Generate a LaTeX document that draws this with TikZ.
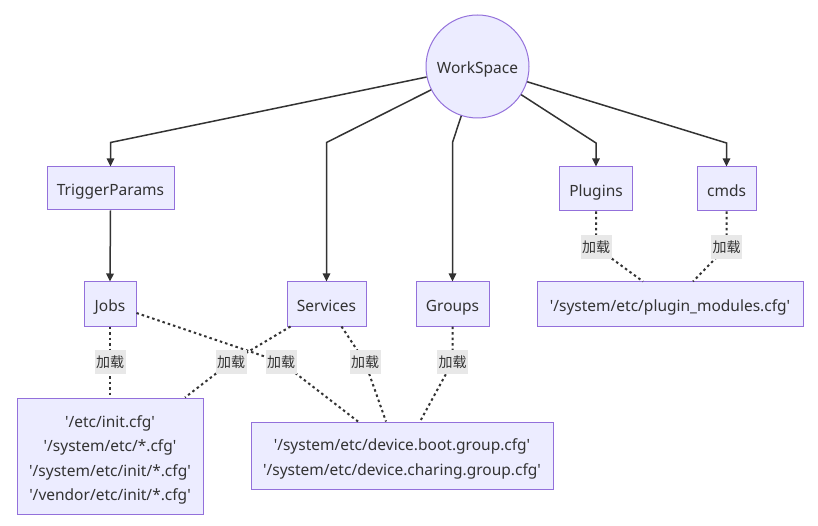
\documentclass[tikz,border=0pt]{standalone}
\usepackage{fontspec}
\newfontfamily\latinf{Noto Sans}
\newfontfamily\cjkf{Noto Sans CJK SC}
\usetikzlibrary{arrows.meta,calc}
\definecolor{nfill}{HTML}{ECECFF}
\definecolor{nline}{HTML}{9370DB}
\definecolor{eline}{HTML}{333333}
\definecolor{lfill}{HTML}{E8E8E8}
\begin{document}
\begin{tikzpicture}[x=1pt,y=-1pt,
  box/.style={draw=nline,fill=nfill,line width=1pt,inner sep=0pt,align=center,
    text=eline,font=\latinf\fontsize{15.5}{24.5}\selectfont},
  one/.style={text height=14.5pt,text depth=0pt},
  solidedge/.style={draw=eline,line width=1.5pt,-{Triangle[length=8pt,width=7.5pt]}},
  dotedge/.style={draw=eline,line width=2pt,dash pattern=on 2.5pt off 3pt},
  lbl/.style={fill=lfill,inner xsep=1.5pt,inner ysep=0pt,minimum height=24pt,
    text=eline,font=\cjkf\fontsize{14}{14}\selectfont}]
\useasboundingbox[fill=white] (0,0) rectangle (818,526);

% nodes
\node[box,one,circle,minimum size=103pt] (ws) at (477.5,66.5) {WorkSpace};
\node[box,one,minimum width=127pt,minimum height=43pt] (tp) at (110.5,188.5) {TriggerParams};
\node[box,one,minimum width=73pt,minimum height=44pt] (pl) at (596,189) {Plugins};
\node[box,one,minimum width=59pt,minimum height=44pt] (cm) at (726.5,189) {cmds};
\node[box,one,minimum width=52pt,minimum height=44pt] (jb) at (110,304) {Jobs};
\node[box,one,minimum width=79pt,minimum height=44pt] (sv) at (326.5,304) {Services};
\node[box,one,minimum width=73pt,minimum height=44pt] (gr) at (452.5,304) {Groups};
\node[box,one,minimum width=266pt,minimum height=44pt] (pm) at (670,304) {'/system/etc/plugin\_modules.cfg'};
\node[box,minimum width=186pt,minimum height=116pt] (ini) at (110,456)
  {\rule{0pt}{20pt}'/etc/init.cfg'\\'/system/etc/*.cfg'\\'/system/etc/init/*.cfg'\\'/vendor/etc/init/*.cfg'\rule[-4pt]{0pt}{4pt}};
\node[box,minimum width=302pt,minimum height=67pt] (dev) at (402,455.5)
  {\rule{0pt}{19pt}'/system/etc/device.boot.group.cfg'\\'/system/etc/device.charing.group.cfg'\rule[-4pt]{0pt}{4pt}};

% bends of solid edges
\coordinate (b1) at (110.5,142.5);
\coordinate (b2) at (326.5,142.5);
\coordinate (b3) at (452.5,142.5);
\coordinate (b4) at (596,143);
\coordinate (b5) at (726.5,143);

\draw[solidedge] (ws) -- (b1) -- (tp.north);
\draw[solidedge] (ws) -- (b2) -- (sv.north);
\draw[solidedge] (ws) -- (b3) -- (gr.north);
\draw[solidedge] (ws) -- (b4) -- (pl.north);
\draw[solidedge] (ws) -- (b5) -- (cm.north);
\draw[solidedge] (tp.south) -- (jb.north);

% label centres
\coordinate (c1) at (596,247);
\coordinate (c2) at (726.5,247);
\coordinate (c3) at (110,362);
\coordinate (c4) at (231,362);
\coordinate (c5) at (281,362);
\coordinate (c6) at (365,362);
\coordinate (c7) at (452.5,362);

% dotted edges
\draw[dotedge] (pl.south) -- (c1) -- ($(pm.north)+(-27,0)$);
\draw[dotedge] (cm.south) -- (c2) -- ($(pm.north)+(23,0)$);
\draw[dotedge] (jb.south) -- (c3) -- (ini.north);
\draw[dotedge] ($(sv.south)+(-36,0)$) -- (c4) -- ($(ini.north)+(75,0)$);
\draw[dotedge] ($(jb.east)+(0,9)$) -- (c5) -- ($(dev.north)+(-44,0)$);
\draw[dotedge] ($(sv.south)+(15,0)$) -- (c6) -- ($(dev.north)+(-16,0)$);
\draw[dotedge] (gr.south) -- (c7) -- ($(dev.north)+(18,0)$);

% labels
\node[lbl] (l1) at (c1) {加载};
\node[lbl] (l2) at (c2) {加载};
\node[lbl] (l3) at (c3) {加载};
\node[lbl] (l4) at (c4) {加载};
\node[lbl] (l5) at (c5) {加载};
\node[lbl] (l6) at (c6) {加载};
\node[lbl] (l7) at (c7) {加载};
\end{tikzpicture}
\end{document}
